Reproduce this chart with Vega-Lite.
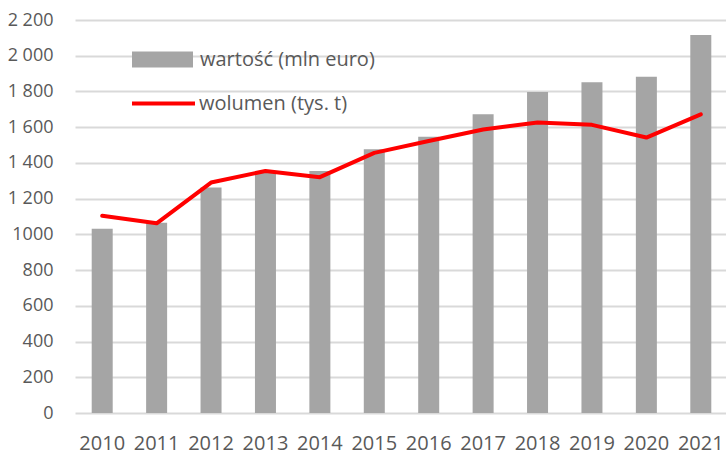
{
  "$schema": "https://vega.github.io/schema/vega-lite/v6.json",
  "width": 653,
  "height": 393,
  "autosize": "none",
  "padding": {"left": 75, "top": 20, "right": 0, "bottom": 45},
  "background": "white",
  "config": {
    "view": {"stroke": null},
    "font": "Open Sans",
    "axis": {"labelFont": "Open Sans", "labelColor": "#595959"},
    "legend": {"labelFont": "Open Sans", "labelColor": "#595959", "labelFontSize": 20, "labelLimit": 400}
  },
  "data": {
    "values": [
      {"rok": "2010", "wartosc": 1031, "wolumen": 1104},
      {"rok": "2011", "wartosc": 1065, "wolumen": 1062},
      {"rok": "2012", "wartosc": 1262, "wolumen": 1290},
      {"rok": "2013", "wartosc": 1350, "wolumen": 1355},
      {"rok": "2014", "wartosc": 1355, "wolumen": 1320},
      {"rok": "2015", "wartosc": 1477, "wolumen": 1456},
      {"rok": "2016", "wartosc": 1547, "wolumen": 1523},
      {"rok": "2017", "wartosc": 1673, "wolumen": 1587},
      {"rok": "2018", "wartosc": 1797, "wolumen": 1626},
      {"rok": "2019", "wartosc": 1852, "wolumen": 1613},
      {"rok": "2020", "wartosc": 1882, "wolumen": 1542},
      {"rok": "2021", "wartosc": 2116, "wolumen": 1672}
    ]
  },
  "encoding": {
    "x": {
      "field": "rok",
      "type": "ordinal",
      "scale": {"paddingInner": 0.614, "paddingOuter": 0.307},
      "axis": {
        "title": null,
        "labelAngle": 0,
        "labelFontSize": 20,
        "labelPadding": 20,
        "labelOverlap": false,
        "labelBound": false,
        "domain": false,
        "ticks": false,
        "grid": false
      }
    }
  },
  "layer": [
    {
      "mark": {"type": "bar", "color": "#a5a5a5"},
      "encoding": {
        "y": {
          "field": "wartosc",
          "type": "quantitative",
          "scale": {"domain": [0, 2200], "nice": false},
          "axis": {
            "title": null,
            "values": [0, 200, 400, 600, 800, 1000, 1200, 1400, 1600, 1800, 2000, 2200],
            "labelExpr": "datum.value > 1000 ? replace(format(datum.value, ','), ',', ' ') : format(datum.value, 'd')",
            "labelFontSize": 18,
            "labelPadding": 22,
            "labelOverlap": false,
            "labelBound": false,
            "labelFlush": false,
            "domain": false,
            "ticks": false,
            "grid": true,
            "gridColor": "#d9d9d9",
            "gridWidth": 2
          }
        },
        "fill": {
          "datum": "wartość (mln euro)",
          "type": "nominal",
          "scale": {"range": ["#a5a5a5"]},
          "legend": {
            "title": null,
            "orient": "none",
            "legendX": 57,
            "legendY": 9,
            "symbolType": "M-1,-0.26H1V0.26H-1Z",
            "symbolSize": 3721,
            "symbolStrokeWidth": 0,
            "labelOffset": 7
          }
        }
      }
    },
    {
      "mark": {"type": "line", "color": "#ff0000", "strokeWidth": 4, "strokeJoin": "round", "strokeCap": "round"},
      "encoding": {
        "y": {
          "field": "wolumen",
          "type": "quantitative",
          "scale": {"domain": [0, 2200], "nice": false},
          "axis": {
            "title": null,
            "values": [0, 200, 400, 600, 800, 1000, 1200, 1400, 1600, 1800, 2000, 2200],
            "labelExpr": "datum.value > 1000 ? replace(format(datum.value, ','), ',', ' ') : format(datum.value, 'd')",
            "labelFontSize": 18,
            "labelPadding": 22,
            "labelOverlap": false,
            "labelBound": false,
            "labelFlush": false,
            "domain": false,
            "ticks": false,
            "grid": true,
            "gridColor": "#d9d9d9",
            "gridWidth": 2
          }
        },
        "stroke": {
          "datum": "wolumen (tys. t)",
          "type": "nominal",
          "scale": {"range": ["#ff0000"]},
          "legend": {
            "title": null,
            "orient": "none",
            "legendX": 55,
            "legendY": 50,
            "symbolType": "M-1,0H1",
            "symbolSize": 3969,
            "symbolStrokeWidth": 4,
            "labelOffset": 2
          }
        }
      }
    }
  ]
}
